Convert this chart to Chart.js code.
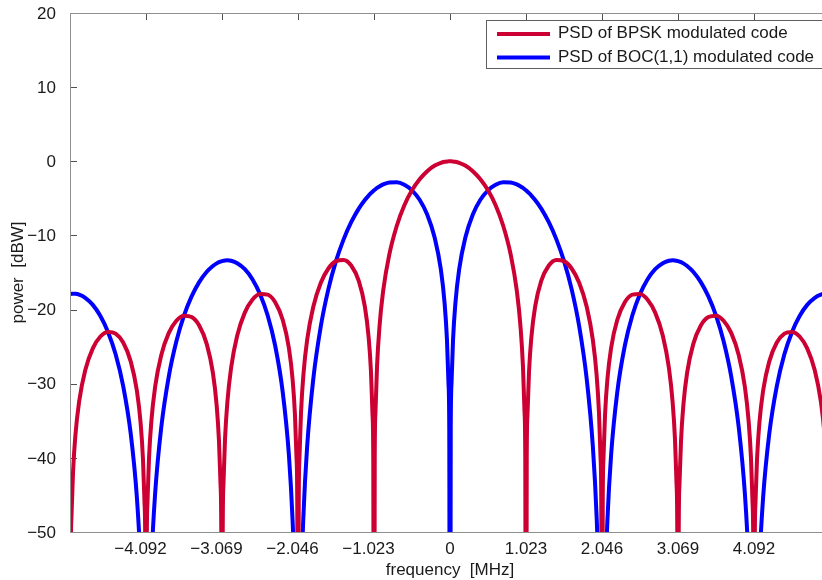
<!DOCTYPE html>
<html lang="en">
  <head>
    <meta charset="UTF-8" />
    <title>PSD of BPSK and BOC(1,1)</title>
    <script src="https://cdn.jsdelivr.net/npm/chart.js"></script>
    <style>
      html,
      body {
        margin: 0;
        padding: 0;
        background: #ffffff;
        overflow: hidden;
      }
      #wrap {
        width: 840px;
        height: 580px;
      }
    </style>
  </head>
  <body>
    <div id="wrap">
      <canvas id="psdChart" width="840" height="580"></canvas>
    </div>

    <script>
      // frequency axis [MHz]
      const freqMHz = [
        -5.115, -5.105, -5.095, -5.074, -5.043, -4.992, -4.91, -4.808, -4.706, -4.604, -4.501, -4.399, -4.297, -4.215, -4.164, -4.133, -4.112, -4.102,
        -4.092, -4.082, -4.072, -4.051, -4.02, -3.969, -3.887, -3.785, -3.683, -3.581, -3.478, -3.376, -3.274, -3.192, -3.141, -3.11, -3.089, -3.079,
        -3.069, -3.059, -3.049, -3.028, -2.997, -2.946, -2.864, -2.762, -2.66, -2.558, -2.455, -2.353, -2.251, -2.169, -2.118, -2.087, -2.066, -2.056,
        -2.046, -2.036, -2.026, -2.005, -1.974, -1.923, -1.841, -1.739, -1.637, -1.535, -1.432, -1.33, -1.228, -1.146, -1.095, -1.064, -1.043, -1.033,
        -1.023, -1.013, -1.003, -0.982, -0.951, -0.9, -0.818, -0.716, -0.614, -0.512, -0.409, -0.307, -0.205, -0.123, -0.072, -0.041, -0.02, -0.01,
        0,
        0.01, 0.02, 0.041, 0.072, 0.123, 0.205, 0.307, 0.409, 0.512, 0.614, 0.716, 0.818, 0.9, 0.951, 0.982, 1.003, 1.013, 1.023,
        1.033, 1.043, 1.064, 1.095, 1.146, 1.228, 1.33, 1.432, 1.535, 1.637, 1.739, 1.841, 1.923, 1.974, 2.005, 2.026, 2.036, 2.046,
        2.056, 2.066, 2.087, 2.118, 2.169, 2.251, 2.353, 2.455, 2.558, 2.66, 2.762, 2.864, 2.946, 2.997, 3.028, 3.049, 3.059, 3.069,
        3.079, 3.089, 3.11, 3.141, 3.192, 3.274, 3.376, 3.478, 3.581, 3.683, 3.785, 3.887, 3.969, 4.02, 4.051, 4.072, 4.082, 4.092,
        4.102, 4.112, 4.133, 4.164, 4.215, 4.297, 4.399, 4.501, 4.604, 4.706, 4.808, 4.91, 4.992, 5.043, 5.074, 5.095, 5.105, 5.115,
      ];

      // PSD of BPSK [dBW] (nulls sit far below the axis floor)
      const bpskPsd = [
        -100, -53.96, -47.93, -41.89, -37.03, -32.39, -28.18, -25.23, -23.63, -23.01, -23.25, -24.45, -27.02, -30.92, -35.36, -40.11, -46.07, -52.07,
        -100, -52.02, -45.98, -39.94, -35.06, -30.4, -26.16, -23.15, -21.51, -20.82, -21.01, -22.15, -24.66, -28.51, -32.91, -37.64, -43.59, -49.57,
        -100, -49.52, -43.47, -37.41, -32.51, -27.81, -23.5, -20.41, -18.68, -17.9, -17.98, -19.02, -21.41, -25.15, -29.49, -34.18, -40.09, -46.07,
        -100, -45.98, -39.92, -33.83, -28.88, -24.11, -19.66, -16.39, -14.46, -13.47, -13.3, -14.06, -16.14, -19.61, -23.76, -28.32, -34.16, -40.09,
        -100, -39.92, -33.81, -27.63, -22.54, -17.51, -12.62, -8.69, -5.94, -3.92, -2.42, -1.33, -0.58, -0.21, -0.07, -0.02, -0.01, 0.0,
        0,
        0.0, -0.01, -0.02, -0.07, -0.21, -0.58, -1.33, -2.42, -3.92, -5.94, -8.69, -12.62, -17.51, -22.54, -27.63, -33.81, -39.92, -100,
        -40.09, -34.16, -28.32, -23.76, -19.61, -16.14, -14.06, -13.3, -13.47, -14.46, -16.39, -19.66, -24.11, -28.88, -33.83, -39.92, -45.98, -100,
        -46.07, -40.09, -34.18, -29.49, -25.15, -21.41, -19.02, -17.98, -17.9, -18.68, -20.41, -23.5, -27.81, -32.51, -37.41, -43.47, -49.52, -100,
        -49.57, -43.59, -37.64, -32.91, -28.51, -24.66, -22.15, -21.01, -20.82, -21.51, -23.15, -26.16, -30.4, -35.06, -39.94, -45.98, -52.02, -100,
        -52.07, -46.07, -40.11, -35.36, -30.92, -27.02, -24.45, -23.25, -23.01, -23.63, -25.23, -28.18, -32.39, -37.03, -41.89, -47.93, -53.96, -100,
      ];

      // PSD of BOC(1,1) [dBW]
      const bocPsd = [
        -17.9, -17.89, -17.88, -17.87, -17.88, -18.0, -18.42, -19.37, -20.86, -23.01, -26.02, -30.31, -36.79, -45.31, -54.5, -64.13, -76.12, -88.14,
        -100, -88.1, -76.04, -63.96, -54.2, -44.79, -35.92, -29.0, -24.28, -20.82, -18.23, -16.3, -14.9, -14.12, -13.77, -13.61, -13.53, -13.5,
        -13.46, -13.44, -13.42, -13.38, -13.36, -13.42, -13.74, -14.55, -15.9, -17.9, -20.76, -24.88, -31.17, -39.54, -48.63, -58.2, -70.15, -82.14,
        -100, -82.06, -69.97, -57.85, -48.02, -38.5, -29.43, -22.25, -17.24, -13.47, -10.53, -8.21, -6.38, -5.22, -4.62, -4.3, -4.1, -4.01,
        -3.92, -3.84, -3.76, -3.6, -3.4, -3.12, -2.86, -2.83, -3.17, -3.92, -5.19, -7.18, -10.35, -14.6, -19.21, -24.05, -30.06, -36.08,
        -100,
        -36.08, -30.06, -24.05, -19.21, -14.6, -10.35, -7.18, -5.19, -3.92, -3.17, -2.83, -2.86, -3.12, -3.4, -3.6, -3.76, -3.84, -3.92,
        -4.01, -4.1, -4.3, -4.62, -5.22, -6.38, -8.21, -10.53, -13.47, -17.24, -22.25, -29.43, -38.5, -48.02, -57.85, -69.97, -82.06, -100,
        -82.14, -70.15, -58.2, -48.63, -39.54, -31.17, -24.88, -20.76, -17.9, -15.9, -14.55, -13.74, -13.42, -13.36, -13.38, -13.42, -13.44, -13.46,
        -13.5, -13.53, -13.61, -13.77, -14.12, -14.9, -16.3, -18.23, -20.82, -24.28, -29.0, -35.92, -44.79, -54.2, -63.96, -76.04, -88.1, -100,
        -88.14, -76.12, -64.13, -54.5, -45.31, -36.79, -30.31, -26.02, -23.01, -20.86, -19.37, -18.42, -18.0, -17.88, -17.87, -17.88, -17.89, -17.9,
      ];

      const xTickValues = [-4.092, -3.069, -2.046, -1.023, 0, 1.023, 2.046, 3.069, 4.092];
      const xTickLabels = ["−4.092", "−3.069", "−2.046", "−1.023", "0", "1.023", "2.046", "3.069", "4.092"];
      const yTickValues = [-50, -40, -30, -20, -10, 0, 10, 20];
      const yTickLabels = ["−50", "−40", "−30", "−20", "−10", "0", "10", "20"];

      const seriesLabels = ["PSD of BPSK modulated code", "PSD of BOC(1,1) modulated code"];
      const seriesColors = ["#cc0033", "#0000ff"];

      const fontFamily = '"Liberation Sans", Arial, Helvetica, sans-serif';
      const textColor = "#1a1a1a";

      // box + inward ticks like the original plot
      const boxAxes = {
        id: "boxAxes",
        beforeDatasetsDraw(chart) {
          // tick marks go under the curves
          const { ctx, chartArea: a, scales } = chart;
          ctx.save();
          ctx.lineWidth = 1;
          ctx.strokeStyle = "#505050";
          ctx.beginPath();
          xTickValues.forEach((v) => {
            const px = Math.round(scales.x.getPixelForValue(v)) + 0.5;
            ctx.moveTo(px, a.top);
            ctx.lineTo(px, a.top + 7);
            ctx.moveTo(px, a.bottom);
            ctx.lineTo(px, a.bottom - 7);
          });
          yTickValues.forEach((v) => {
            const py = Math.round(scales.y.getPixelForValue(v)) + 0.5;
            ctx.moveTo(a.left, py);
            ctx.lineTo(a.left + 7, py);
            ctx.moveTo(a.right, py);
            ctx.lineTo(a.right - 7, py);
          });
          ctx.stroke();
          ctx.restore();
        },
        afterDatasetsDraw(chart) {
          const { ctx, chartArea: a, scales } = chart;
          ctx.save();
          ctx.lineWidth = 1;
          ctx.strokeStyle = "#909090";
          ctx.strokeRect(a.left + 0.5, a.top + 0.5, a.right - a.left, a.bottom - a.top);

          // x tick labels, negative ones centred on the digits like the original
          ctx.font = "17px " + fontFamily;
          ctx.fillStyle = textColor;
          ctx.textAlign = "center";
          ctx.textBaseline = "alphabetic";
          const minusW = ctx.measureText("−").width;
          xTickValues.forEach((v, i) => {
            const px = scales.x.getPixelForValue(v);
            const shift = xTickLabels[i].startsWith("−") ? minusW / 2 + 0.5 : 0;
            ctx.fillText(xTickLabels[i], px - shift, a.bottom + 22);
          });
          ctx.restore();
        },
      };

      // legend box in the top right corner
      const boxLegend = {
        id: "boxLegend",
        afterDraw(chart) {
          const { ctx } = chart;
          ctx.save();
          ctx.fillStyle = "#ffffff";
          ctx.fillRect(486.5, 20.5, 345, 48);
          ctx.lineWidth = 1;
          ctx.strokeStyle = "#606060";
          ctx.strokeRect(486.5, 20.5, 345, 48);
          ctx.font = "17px " + fontFamily;
          ctx.textBaseline = "middle";
          ctx.textAlign = "left";
          const rows = [34, 57.5];
          seriesLabels.forEach((label, i) => {
            ctx.strokeStyle = seriesColors[i];
            ctx.lineWidth = 4;
            ctx.beginPath();
            ctx.moveTo(497, rows[i]);
            ctx.lineTo(550, rows[i]);
            ctx.stroke();
            ctx.fillStyle = textColor;
            ctx.fillText(label, 558, rows[i] - 0.5);
          });
          ctx.restore();
        },
      };

      const makeData = (values) => freqMHz.map((f, i) => ({ x: f, y: values[i] }));

      new Chart(document.getElementById("psdChart"), {
        type: "line",
        data: {
          datasets: [
            {
              label: seriesLabels[0],
              data: makeData(bpskPsd),
              borderColor: seriesColors[0],
              borderWidth: 4,
              pointRadius: 0,
              cubicInterpolationMode: "monotone",
              fill: false,
              clip: 0,
            },
            {
              label: seriesLabels[1],
              data: makeData(bocPsd),
              borderColor: seriesColors[1],
              borderWidth: 4,
              pointRadius: 0,
              cubicInterpolationMode: "monotone",
              fill: false,
              clip: 0,
            },
          ],
        },
        options: {
          responsive: false,
          animation: false,
          layout: { padding: { top: 13, right: 10, bottom: 0, left: 0 } },
          plugins: {
            legend: { display: false },
            tooltip: { enabled: false },
          },
          scales: {
            x: {
              type: "linear",
              min: -5.115,
              max: 5.115,
              afterBuildTicks: (scale) => {
                scale.ticks = xTickValues.map((v) => ({ value: v }));
              },
              afterFit: (scale) => {
                scale.height = 48;
                scale.paddingLeft = 0;
                scale.paddingRight = 0;
              },
              grid: { display: false },
              border: { display: false },
              // labels are drawn by the boxAxes plugin
              ticks: { display: false },
              title: {
                display: true,
                text: "frequency  [MHz]",
                color: textColor,
                font: { family: fontFamily, size: 17 },
                padding: { top: 0, bottom: -1 },
              },
            },
            y: {
              min: -50,
              max: 20,
              afterBuildTicks: (scale) => {
                scale.ticks = yTickValues.map((v) => ({ value: v }));
              },
              afterFit: (scale) => {
                scale.width = 70;
                scale.paddingTop = 0;
                scale.paddingBottom = 0;
              },
              grid: { display: false },
              border: { display: false },
              ticks: {
                padding: 6,
                labelOffset: 1,
                color: textColor,
                font: { family: fontFamily, size: 17 },
                callback: (value, index) => yTickLabels[index],
              },
              title: {
                display: true,
                text: "power  [dBW]",
                color: textColor,
                font: { family: fontFamily, size: 17 },
                padding: { top: 8, bottom: 0 },
              },
            },
          },
        },
        plugins: [boxAxes, boxLegend],
      });
    </script>
  </body>
</html>
